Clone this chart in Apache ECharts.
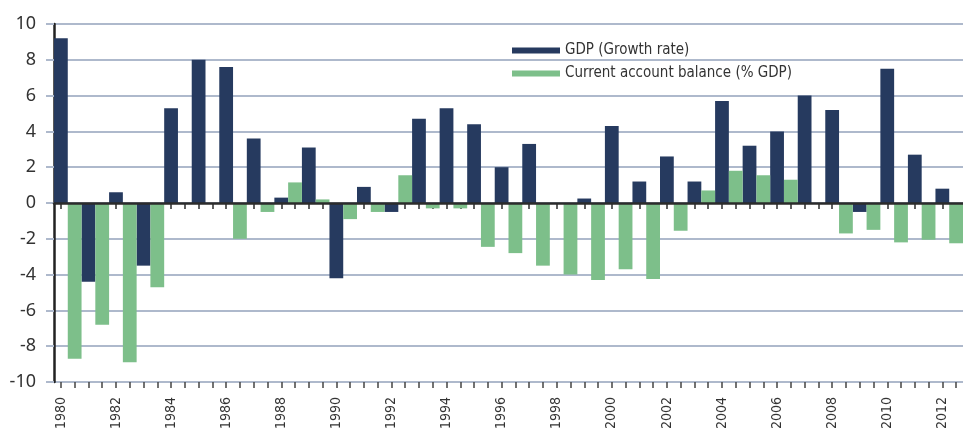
<!DOCTYPE html>
<html>
<head>
<meta charset="utf-8">
<script src="https://cdn.jsdelivr.net/npm/echarts@6/dist/echarts.min.js"></script>
<style>
  html, body { margin: 0; padding: 0; background: #fff; }
  #chart { width: 963px; height: 428px; }
</style>
</head>
<body>
<div id="chart"></div>
<script>
// years on the x axis
const years = ['1980', '1981', '1982', '1983', '1984', '1985', '1986', '1987', '1988', '1989',
  '1990', '1991', '1992', '1993', '1994', '1995', '1996', '1997', '1998', '1999',
  '2000', '2001', '2002', '2003', '2004', '2005', '2006', '2007', '2008', '2009',
  '2010', '2011', '2012']

// GDP (Growth rate)
const gdp = [9.2, -4.4, 0.6, -3.5, 5.3, 8.0, 7.6, 3.6, 0.3, 3.1,
  -4.2, 0.9, -0.5, 4.7, 5.3, 4.4, 2.0, 3.3, 0, 0.25,
  4.3, 1.2, 2.6, 1.2, 5.7, 3.2, 4.0, 6.0, 5.2, -0.5,
  7.5, 2.7, 0.8]

// Current account balance (% GDP)
const cab = [-8.7, -6.8, -8.9, -4.7, 0, 0, -2.0, -0.5, 1.15, 0.2,
  -0.9, -0.5, 1.55, -0.3, -0.3, -2.45, -2.8, -3.5, -4.0, -4.3,
  -3.7, -4.25, -1.55, 0.7, 1.8, 1.55, 1.3, 0, -1.7, -1.5,
  -2.2, -2.05, -2.25]

const yTicks = { min: -10, max: 10, interval: 2 }

// half-year slots: one for each bar, label sits under the GDP bar
const slots = years.flatMap(y => [y, ''])

const navy = '#263a5f'
const green = '#7dbf8a'
const gridLine = '#aeb9cc'
const narrow = '"Liberation Sans Narrow", "DejaVu Sans Condensed", sans-serif'

const gridTop = 24
const gridBottom = 46
const plotH = 428 - gridTop - gridBottom
// distance from the bottom edge up to the zero line
const zeroOffset = plotH * (0 - yTicks.min) / (yTicks.max - yTicks.min)

const myChart = echarts.init(document.getElementById('chart'))

const option = {
  animation: false,
  grid: { left: 54, right: 0, top: gridTop, bottom: gridBottom, containLabel: false, outerBoundsMode: 'none' },
  legend: {
    orient: 'vertical',
    left: 507,
    top: 38,
    itemWidth: 48,
    itemHeight: 6,
    itemGap: 8,
    icon: 'rect',
    textStyle: { fontFamily: narrow, fontSize: 15, color: '#333' },
    data: ['GDP (Growth rate)', 'Current account balance (% GDP)']
  },
  xAxis: [
    {
      // bars + the dark zero line drawn over them
      type: 'category',
      data: years,
      z: 5,
      axisLine: { show: true, onZero: true, lineStyle: { color: '#2b2b2b', width: 2.5 } },
      axisTick: { show: false },
      axisLabel: { show: false },
      splitLine: { show: false }
    },
    {
      // ticks under the zero line
      type: 'category',
      data: slots,
      position: 'bottom',
      offset: -zeroOffset,
      z: 0,
      axisLine: { show: false, onZero: false },
      axisTick: { show: true, interval: 0, alignWithLabel: true, length: 6, lineStyle: { color: '#2b2b2b', width: 1.5 } },
      axisLabel: { show: false },
      splitLine: { show: false }
    },
    {
      // bottom ticks and year labels
      type: 'category',
      data: slots,
      position: 'bottom',
      axisLine: { show: false, onZero: false },
      axisTick: { show: true, interval: 0, alignWithLabel: true, length: 6, lineStyle: { color: '#444', width: 1.5 } },
      axisLabel: {
        interval: 3,
        rotate: 90,
        margin: 15,
        fontFamily: narrow,
        fontSize: 14,
        color: '#333'
      },
      splitLine: { show: false }
    }
  ],
  yAxis: {
    type: 'value',
    min: yTicks.min,
    max: yTicks.max,
    interval: yTicks.interval,
    axisLine: { show: true, lineStyle: { color: '#222', width: 2.5 } },
    axisTick: { show: true, length: 8, lineStyle: { color: gridLine, width: 2 } },
    axisLabel: { fontFamily: '"Noto Sans", sans-serif', fontSize: 18, color: '#333', margin: 18 },
    splitLine: { show: true, lineStyle: { color: gridLine, width: 2 } }
  },
  series: [
    {
      name: 'GDP (Growth rate)',
      type: 'bar',
      xAxisIndex: 0,
      data: gdp,
      itemStyle: { color: navy },
      barGap: '0%',
      barCategoryGap: '0%'
    },
    {
      name: 'Current account balance (% GDP)',
      type: 'bar',
      xAxisIndex: 0,
      data: cab,
      itemStyle: { color: green },
      barGap: '0%',
      barCategoryGap: '0%'
    }
  ]
}

myChart.setOption(option)
</script>
</body>
</html>
